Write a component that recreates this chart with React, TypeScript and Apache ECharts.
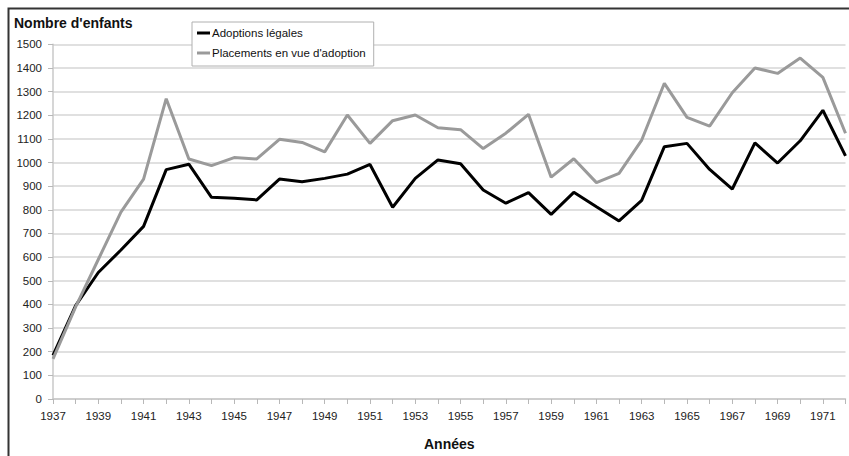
import React, { useEffect, useRef } from "react";
import * as echarts from "echarts";

const years: string[] = [];
for (let y = 1937; y <= 1972; y++) years.push(String(y));

const adoptionsLegales = [
  185, 395, 535, 630, 730, 970, 993, 853, 849, 842, 930, 919, 933, 951, 992, 811, 933,
  1011, 995, 884, 828, 873, 781, 874, 813, 753, 840, 1067, 1081, 971, 888, 1083, 998,
  1092, 1221, 1028,
];

const placementsAdoption = [
  170, 390, 590, 790, 930, 1270, 1015, 987, 1021, 1015, 1098, 1085, 1045, 1201, 1081,
  1177, 1201, 1147, 1139, 1059, 1124, 1204, 938, 1016, 915, 954, 1095, 1335, 1191, 1154,
  1295, 1400, 1377, 1442, 1360, 1124,
];

const seriesNames = ["Adoptions légales", "Placements en vue d'adoption"];
const yAxisTitle = "Nombre d'enfants";
const xAxisTitle = "Années";

const FONT = "'Liberation Sans', Arial, sans-serif";

export default function App() {
  const ref = useRef<HTMLDivElement>(null);

  useEffect(() => {
    document.body.style.margin = "0";
    if (!ref.current) return;
    const chart = echarts.init(ref.current, undefined, { renderer: "svg" });
    chart.setOption({
      animation: false,
      backgroundColor: "#ffffff",
      textStyle: { fontFamily: FONT },
      grid: { left: 53, right: 3.5, top: 44.3, bottom: 57, containLabel: false },
      legend: {
        left: 192,
        top: 22,
        orient: "vertical",
        backgroundColor: "#fff",
        borderColor: "#b0b0b0",
        borderWidth: 1,
        borderRadius: 0,
        padding: [5, 8, 7, 5],
        itemGap: 8,
        itemWidth: 13,
        itemHeight: 3,
        icon: "rect",
        textStyle: { fontFamily: FONT, fontSize: 11.5, color: "#111", padding: [0, 0, 0, -3] },
        data: seriesNames,
      },
      xAxis: {
        type: "category",
        data: years,
        boundaryGap: false,
        name: xAxisTitle,
        nameLocation: "middle",
        nameGap: 38,
        nameTextStyle: { fontFamily: FONT, fontSize: 14, fontWeight: "bold", color: "#111" },
        axisLine: { show: true, lineStyle: { color: "#c8c8c8", width: 1.5 } },
        axisTick: { show: true, interval: 0, length: 5, lineStyle: { color: "#b8b8b8", width: 1 } },
        axisLabel: { interval: 1, margin: 11, fontSize: 11.5, color: "#222", fontFamily: FONT },
        splitLine: { show: false },
      },
      yAxis: {
        type: "value",
        min: 0,
        max: 1500,
        interval: 100,
        axisLine: { show: true, lineStyle: { color: "#c8c8c8", width: 1.5 } },
        axisTick: { show: true, length: 5, lineStyle: { color: "#b8b8b8", width: 1 } },
        axisLabel: {
          margin: 11,
          fontSize: 11.5,
          color: "#222",
          fontFamily: FONT,
          formatter: (v: number) => String(v),
        },
        splitLine: { show: true, lineStyle: { color: "#d6d6d6", width: 1.5 } },
      },
      series: [
        {
          name: seriesNames[0],
          type: "line",
          data: adoptionsLegales,
          symbol: "none",
          color: "#000000",
          lineStyle: { color: "#000000", width: 3 },
        },
        {
          name: seriesNames[1],
          type: "line",
          data: placementsAdoption,
          symbol: "none",
          color: "#9a9a9a",
          lineStyle: { color: "#9a9a9a", width: 3 },
        },
      ],
      graphic: [
        {
          type: "rect",
          left: 6,
          top: 6,
          shape: { x: 0, y: 0, width: 900, height: 500 },
          style: { fill: "none", stroke: "#333", lineWidth: 2 },
          silent: true,
          z: 100,
        },
        {
          type: "text",
          left: 14,
          top: 16,
          style: {
            text: yAxisTitle,
            fontFamily: FONT,
            fontSize: 14,
            fontWeight: "bold",
            fill: "#111",
          },
        },
      ],
    });
    return () => chart.dispose();
  }, []);

  return <div ref={ref} style={{ width: 849, height: 456 }} />;
}
